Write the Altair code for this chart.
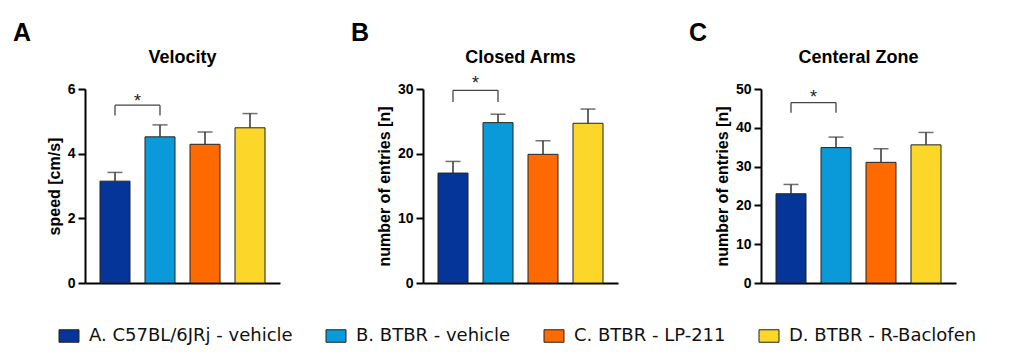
import altair as alt
import pandas as pd

groups = ["A. C57BL/6JRj - vehicle", "B. BTBR - vehicle", "C. BTBR - LP-211", "D. BTBR - R-Baclofen"]
colors = ["#06359a", "#0a9ad9", "#ff6a00", "#fdd62a"]

letters = ["A", "B", "C"]
titles = ["Velocity", "Closed Arms", "Centeral Zone"]
y_titles = ["speed [cm/s]", "number of entries [n]", "number of entries [n]"]
y_max = [6, 30, 50]
y_ticks = [[0, 2, 4, 6], [0, 10, 20, 30], [0, 10, 20, 30, 40, 50]]

means_velocity = [3.15, 4.52, 4.29, 4.80]
upper_velocity = [3.42, 4.89, 4.67, 5.24]
means_closed = [17.0, 24.8, 19.9, 24.7]
upper_closed = [18.8, 26.1, 22.0, 26.9]
means_central = [23.0, 34.9, 31.1, 35.6]
upper_central = [25.4, 37.6, 34.6, 38.8]

bracket_top = [5.5, 29.8, 46.5]
bracket_leg = [5.18, 28.0, 43.9]
star_y = [5.72, 31.4, 48.7]

all_means = [means_velocity, means_closed, means_central]
all_upper = [upper_velocity, upper_closed, upper_central]

W, H = 195, 194
FONT = "Liberation Sans"


def panel(i):
    df = pd.DataFrame({"group": groups, "mean": all_means[i], "upper": all_upper[i]})
    xscale = alt.Scale(paddingInner=1 / 3, paddingOuter=1 / 3)
    xaxis = alt.Axis(labels=False, ticks=False, title=None, domainWidth=2,
                     domainColor="black")
    yscale = alt.Scale(domain=[0, y_max[i]], nice=False)
    yaxis = alt.Axis(values=y_ticks[i], title=y_titles[i], domainWidth=2,
                     domainColor="black", tickColor="black", tickWidth=2,
                     tickSize=7, labelPadding=3, labelFont=FONT, labelOverlap=False,
                     labelFontSize=14, labelFontWeight="bold", labelColor="black",
                     titleFont=FONT, titleFontSize=16, titleFontWeight="bold",
                     titleColor="black", titlePadding=5, grid=False)

    def X(field):
        return alt.X(field, sort=groups, scale=xscale, axis=xaxis, title=None,
                     bandPosition=0.5)

    def Y(field):
        return alt.Y(field, scale=yscale, axis=yaxis, title=y_titles[i])

    legend = alt.Legend(orient="none", legendX=-25, legendY=238, direction="horizontal",
                        title=None, columns=4, labelFont="DejaVu Sans", labelFontSize=18,
                        labelColor="#111", labelLimit=400, labelOffset=11,
                        columnPadding=31, symbolType="M-1.6,-1H1.6V1H-1.6Z",
                        symbolSize=156, symbolStrokeColor="#222", symbolStrokeWidth=1,
                        padding=0) if i == 0 else None
    cenc = alt.Color("group:N", sort=groups,
                     scale=alt.Scale(domain=groups, range=colors),
                     legend=legend)
    base = alt.Chart(df)
    bars = base.mark_bar(stroke="#222", strokeWidth=1).encode(
        x=alt.X("group:N", sort=groups, scale=xscale, axis=xaxis, title=None),
        y=Y("mean:Q"), color=cenc)
    err = base.mark_rule(color="#333", strokeWidth=1.5).encode(
        x=X("group:N"), y=Y("mean:Q"), y2="upper:Q")
    cap = base.mark_tick(color="#333", size=15, thickness=1.5).encode(
        x=alt.X("group:N", sort=groups, scale=xscale, axis=xaxis, title=None),
        y=Y("upper:Q"))

    br = pd.DataFrame({"g1": [groups[0]], "g2": [groups[1]],
                       "top": [bracket_top[i]], "star": [star_y[i]]})
    legs = pd.DataFrame({"g": [groups[0], groups[1]],
                         "top": [bracket_top[i]] * 2, "leg": [bracket_leg[i]] * 2})
    hline = alt.Chart(br).mark_rule(color="#444", strokeWidth=1.3).encode(
        x=X("g1:N"), x2=alt.X2("g2", bandPosition=0.5), y=Y("top:Q"))
    vlines = alt.Chart(legs).mark_rule(color="#444", strokeWidth=1.3).encode(
        x=X("g:N"), y=Y("top:Q"), y2="leg:Q")
    star = alt.Chart(br).mark_text(text="*", font=FONT, fontSize=18, color="#222",
                                   baseline="middle", dx=22.5, dy=4).encode(
        x=X("g1:N"), y=Y("star:Q"))

    lab = pd.DataFrame({"letter": [letters[i]], "title": [titles[i]]})
    letter = alt.Chart(lab).mark_text(font=FONT, fontSize=25, fontWeight="bold",
                                      color="black", align="left",
                                      baseline="alphabetic").encode(
        x=alt.value(-72), y=alt.value(-48), text="letter:N")
    title = alt.Chart(lab).mark_text(font=FONT, fontSize=18, fontWeight="bold",
                                     color="black", align="center",
                                     baseline="alphabetic").encode(
        x=alt.value(W / 2), y=alt.value(-26), text="title:N")

    return alt.layer(bars, err, cap, hline, vlines, star, letter, title).properties(
        width=W, height=H)


chart = alt.hconcat(panel(0), panel(1), panel(2), spacing=143, bounds="flush").properties(
    padding={"left": 5, "top": 13, "right": 5, "bottom": 5}
).configure_view(stroke=None)

chart.save("out.html", embed_options={"renderer": "svg", "actions": False})
